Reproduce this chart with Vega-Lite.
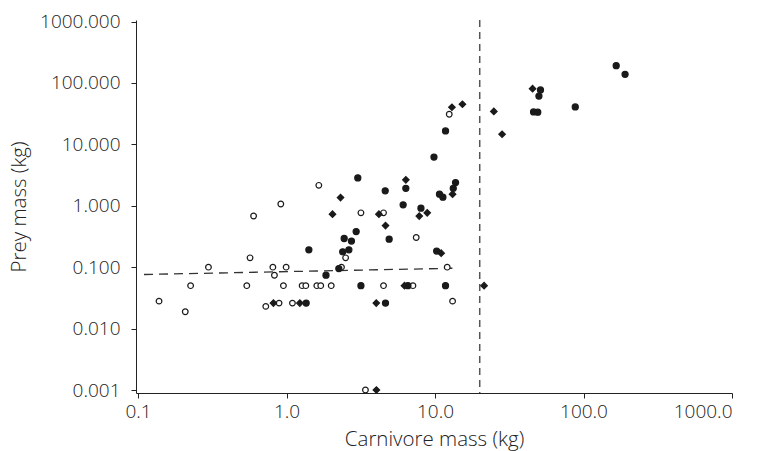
{
  "$schema": "https://vega.github.io/schema/vega-lite/v6.json",
  "autosize": "none",
  "width": 596,
  "height": 373,
  "padding": {"left": 136, "top": 20, "right": 33, "bottom": 58},
  "background": "white",
  "config": {
    "view": {"stroke": null},
    "font": "Open Sans",
    "axis": {
      "grid": false,
      "domainColor": "#222222",
      "domainWidth": 1,
      "tickColor": "#222222",
      "tickSize": 5,
      "labelFont": "Open Sans",
      "labelFontSize": 19,
      "labelFontWeight": 300,
      "labelColor": "#222222",
      "titleFont": "Open Sans",
      "titleFontSize": 20.5,
      "titleFontWeight": 300,
      "titleColor": "#222222"
    }
  },
  "datasets": {
    "points": [
      {"carnivore": 1.65, "prey": 2.15, "group": "open"},
      {"carnivore": 0.915, "prey": 1.07, "group": "open"},
      {"carnivore": 0.60, "prey": 0.68, "group": "open"},
      {"carnivore": 0.568, "prey": 0.142, "group": "open"},
      {"carnivore": 0.298, "prey": 0.1, "group": "open"},
      {"carnivore": 0.809, "prey": 0.1, "group": "open"},
      {"carnivore": 0.994, "prey": 0.1, "group": "open"},
      {"carnivore": 0.829, "prey": 0.074, "group": "open"},
      {"carnivore": 0.1385, "prey": 0.028, "group": "open"},
      {"carnivore": 0.208, "prey": 0.0188, "group": "open"},
      {"carnivore": 0.226, "prey": 0.05, "group": "open"},
      {"carnivore": 0.54, "prey": 0.05, "group": "open"},
      {"carnivore": 0.953, "prey": 0.05, "group": "open"},
      {"carnivore": 1.274, "prey": 0.05, "group": "open"},
      {"carnivore": 1.349, "prey": 0.05, "group": "open"},
      {"carnivore": 1.6, "prey": 0.05, "group": "open"},
      {"carnivore": 1.7, "prey": 0.05, "group": "open"},
      {"carnivore": 2.0, "prey": 0.05, "group": "open"},
      {"carnivore": 0.725, "prey": 0.023, "group": "open"},
      {"carnivore": 0.891, "prey": 0.026, "group": "open"},
      {"carnivore": 1.096, "prey": 0.026, "group": "open"},
      {"carnivore": 3.17, "prey": 0.767, "group": "open"},
      {"carnivore": 4.5, "prey": 0.767, "group": "open"},
      {"carnivore": 7.47, "prey": 0.304, "group": "open"},
      {"carnivore": 2.5, "prey": 0.142, "group": "open"},
      {"carnivore": 2.344, "prey": 0.1, "group": "open"},
      {"carnivore": 12.08, "prey": 0.1, "group": "open"},
      {"carnivore": 4.5, "prey": 0.05, "group": "open"},
      {"carnivore": 7.1, "prey": 0.05, "group": "open"},
      {"carnivore": 13.13, "prey": 0.028, "group": "open"},
      {"carnivore": 3.40, "prey": 0.001, "group": "open"},
      {"carnivore": 12.47, "prey": 30.9, "group": "open"},
      {"carnivore": 1.414, "prey": 0.192, "group": "filled"},
      {"carnivore": 1.844, "prey": 0.074, "group": "filled"},
      {"carnivore": 1.356, "prey": 0.026, "group": "filled"},
      {"carnivore": 9.84, "prey": 6.2, "group": "filled"},
      {"carnivore": 3.02, "prey": 2.84, "group": "filled"},
      {"carnivore": 6.36, "prey": 1.92, "group": "filled"},
      {"carnivore": 13.75, "prey": 2.39, "group": "filled"},
      {"carnivore": 13.27, "prey": 1.92, "group": "filled"},
      {"carnivore": 10.72, "prey": 1.545, "group": "filled"},
      {"carnivore": 11.3, "prey": 1.38, "group": "filled"},
      {"carnivore": 4.62, "prey": 1.75, "group": "filled"},
      {"carnivore": 6.1, "prey": 1.035, "group": "filled"},
      {"carnivore": 8.04, "prey": 0.915, "group": "filled"},
      {"carnivore": 2.944, "prey": 0.38, "group": "filled"},
      {"carnivore": 2.445, "prey": 0.293, "group": "filled"},
      {"carnivore": 2.737, "prey": 0.266, "group": "filled"},
      {"carnivore": 4.91, "prey": 0.286, "group": "filled"},
      {"carnivore": 2.39, "prey": 0.178, "group": "filled"},
      {"carnivore": 2.63, "prey": 0.192, "group": "filled"},
      {"carnivore": 10.26, "prey": 0.183, "group": "filled"},
      {"carnivore": 2.25, "prey": 0.095, "group": "filled"},
      {"carnivore": 3.17, "prey": 0.05, "group": "filled"},
      {"carnivore": 6.57, "prey": 0.05, "group": "filled"},
      {"carnivore": 11.77, "prey": 0.05, "group": "filled"},
      {"carnivore": 4.64, "prey": 0.026, "group": "filled"},
      {"carnivore": 11.77, "prey": 16.5, "group": "filled"},
      {"carnivore": 51.3, "prey": 76.9, "group": "filled"},
      {"carnivore": 50.1, "prey": 61, "group": "filled"},
      {"carnivore": 46.1, "prey": 33.7, "group": "filled"},
      {"carnivore": 49.2, "prey": 33.4, "group": "filled"},
      {"carnivore": 88, "prey": 40.6, "group": "filled"},
      {"carnivore": 166, "prey": 191, "group": "filled"},
      {"carnivore": 190.5, "prey": 138, "group": "filled"},
      {"carnivore": 2.04, "prey": 0.73, "group": "diamond"},
      {"carnivore": 2.31, "prey": 1.36, "group": "diamond"},
      {"carnivore": 6.36, "prey": 2.64, "group": "diamond"},
      {"carnivore": 13.13, "prey": 1.545, "group": "diamond"},
      {"carnivore": 8.86, "prey": 0.767, "group": "diamond"},
      {"carnivore": 7.83, "prey": 0.678, "group": "diamond"},
      {"carnivore": 4.19, "prey": 0.73, "group": "diamond"},
      {"carnivore": 4.64, "prey": 0.476, "group": "diamond"},
      {"carnivore": 11.0, "prey": 0.169, "group": "diamond"},
      {"carnivore": 0.816, "prey": 0.026, "group": "diamond"},
      {"carnivore": 1.229, "prey": 0.026, "group": "diamond"},
      {"carnivore": 4.02, "prey": 0.026, "group": "diamond"},
      {"carnivore": 6.23, "prey": 0.05, "group": "diamond"},
      {"carnivore": 21.4, "prey": 0.05, "group": "diamond"},
      {"carnivore": 4.03, "prey": 0.001, "group": "diamond"},
      {"carnivore": 13.0, "prey": 40.2, "group": "diamond"},
      {"carnivore": 15.3, "prey": 45, "group": "diamond"},
      {"carnivore": 24.9, "prey": 34.4, "group": "diamond"},
      {"carnivore": 28.3, "prey": 14.6, "group": "diamond"},
      {"carnivore": 45.4, "prey": 80.7, "group": "diamond"}
    ],
    "fit": [
      {"carnivore": 0.1097, "prey": 0.076},
      {"carnivore": 13.1, "prey": 0.096}
    ],
    "threshold": [
      {"carnivore": 20}
    ]
  },
  "layer": [
    {
      "data": {"name": "threshold"},
      "mark": {"type": "rule", "color": "#555555", "strokeWidth": 1.5, "strokeDash": [7, 5]},
      "encoding": {
        "x": {"field": "carnivore", "type": "quantitative", "scale": {"type": "log", "domain": [0.0969, 1000], "nice": false}}
      }
    },
    {
      "data": {"name": "fit"},
      "mark": {"type": "line", "color": "#333333", "strokeWidth": 1.3, "strokeDash": [9, 6]},
      "encoding": {
        "x": {"field": "carnivore", "type": "quantitative"},
        "y": {"field": "prey", "type": "quantitative"}
      }
    },
    {
      "data": {"name": "points"},
      "mark": {"type": "point", "filled": false, "stroke": "#1a1a1a", "strokeWidth": 1.2, "opacity": 1},
      "encoding": {
        "x": {
          "field": "carnivore",
          "type": "quantitative",
          "scale": {"type": "log", "domain": [0.0969, 1000], "nice": false},
          "axis": {
            "title": "Carnivore mass (kg)",
            "values": [0.1, 1, 10, 100, 1000],
            "format": ".1f",
            "labelPadding": 4,
            "titlePadding": 8
          }
        },
        "y": {
          "field": "prey",
          "type": "quantitative",
          "scale": {"type": "log", "domain": [0.000894, 1058], "nice": false},
          "axis": {
            "title": "Prey mass (kg)",
            "values": [0.001, 0.01, 0.1, 1, 10, 100, 1000],
            "format": ".3f",
            "labelPadding": 11,
            "titlePadding": 10
          }
        },
        "shape": {
          "field": "group",
          "type": "nominal",
          "scale": {"domain": ["open", "filled", "diamond"], "range": ["circle", "circle", "diamond"]},
          "legend": null
        },
        "fill": {
          "field": "group",
          "type": "nominal",
          "scale": {"domain": ["open", "filled", "diamond"], "range": ["#ffffff", "#1a1a1a", "#1a1a1a"]},
          "legend": null
        },
        "size": {
          "field": "group",
          "type": "nominal",
          "scale": {"domain": ["open", "filled", "diamond"], "range": [32, 42, 56]},
          "legend": null
        }
      }
    }
  ]
}
